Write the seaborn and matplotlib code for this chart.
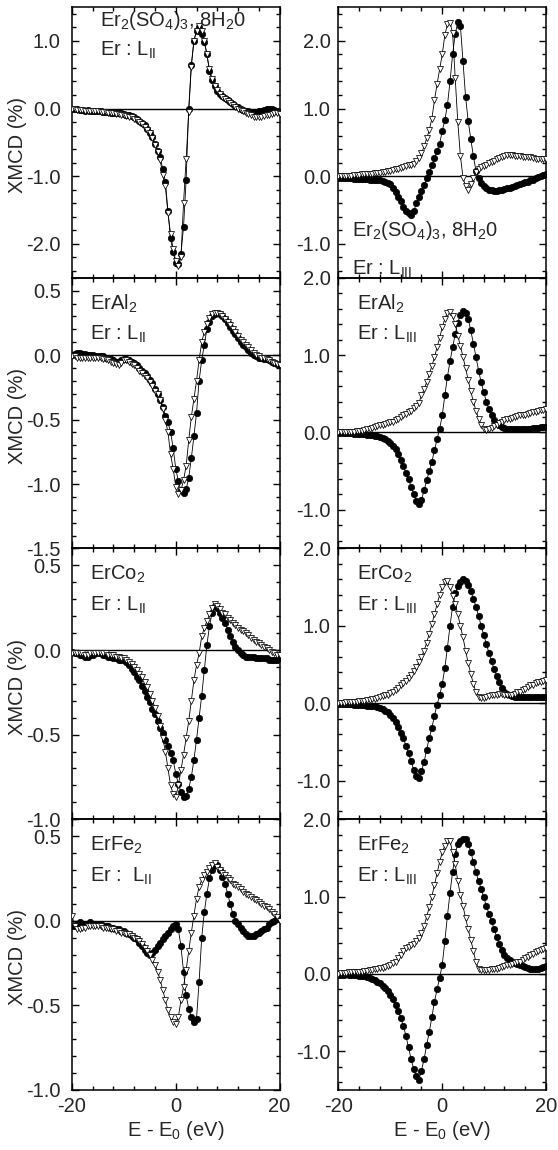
import numpy as np
import matplotlib
matplotlib.use("Agg")
import matplotlib.pyplot as plt
from matplotlib.ticker import MultipleLocator, FormatStrFormatter
import seaborn as sns

# energy grid, 0.5 eV steps from -20 to 20 eV
energy = np.linspace(-20, 20, 81)

# ---- L_II edge (left column) ----
sulf_l2_circ = [0.00, -0.01, -0.01, -0.02, -0.02, -0.03, -0.02, -0.03, -0.03, -0.04,
                -0.04, -0.04, -0.05, -0.05, -0.05, -0.06, -0.06, -0.06, -0.07, -0.07,
                -0.08, -0.09, -0.10, -0.11, -0.13, -0.15, -0.18, -0.21, -0.25, -0.30,
                -0.36, -0.42, -0.52, -0.62, -0.72, -0.90, -1.08, -1.52, -1.92, -2.12,
                -2.28, -2.30, -2.15, -1.75, -1.05, 0.00, 0.65, 1.00, 1.15, 1.20,
                1.10, 0.98, 0.80, 0.55, 0.42, 0.33, 0.26, 0.22, 0.18, 0.15,
                0.12, 0.10, 0.06, 0.04, 0.02, 0.00, -0.02, -0.03, -0.04, -0.05,
                -0.06, -0.05, -0.04, -0.03, -0.02, 0.00, 0.00, -0.01, -0.02, -0.03,
                -0.05]
sulf_l2_tri = [-0.01, -0.01, -0.02, -0.02, -0.02, -0.03, -0.03, -0.03, -0.04, -0.04,
               -0.04, -0.05, -0.05, -0.05, -0.06, -0.06, -0.07, -0.08, -0.08, -0.09,
               -0.10, -0.11, -0.12, -0.13, -0.15, -0.17, -0.20, -0.23, -0.27, -0.32,
               -0.36, -0.44, -0.54, -0.64, -0.76, -0.98, -1.15, -1.55, -1.85, -2.08,
               -2.25, -2.33, -2.20, -1.40, -0.75, -0.05, 0.62, 1.00, 1.15, 1.22,
               1.15, 1.00, 0.80, 0.58, 0.44, 0.34, 0.27, 0.22, 0.17, 0.14,
               0.11, 0.08, 0.05, 0.02, 0.00, -0.02, -0.04, -0.06, -0.08, -0.10,
               -0.12, -0.13, -0.13, -0.12, -0.11, -0.10, -0.09, -0.08, -0.07, -0.07,
               -0.08]

al_l2_circ = [0.00, 0.01, 0.02, 0.02, 0.01, 0.01, 0.00, 0.00, 0.00, -0.01,
              -0.01, -0.01, -0.01, -0.02, -0.02, -0.03, -0.04, -0.05, -0.05, -0.04,
              -0.03, -0.03, -0.04, -0.05, -0.06, -0.08, -0.10, -0.12, -0.14, -0.16,
              -0.19, -0.22, -0.26, -0.30, -0.35, -0.40, -0.47, -0.52, -0.60, -0.72,
              -0.88, -0.98, -1.05, -1.07, -1.04, -0.95, -0.80, -0.63, -0.45, -0.20,
              -0.04, 0.08, 0.20, 0.26, 0.30, 0.32, 0.33, 0.32, 0.30, 0.28,
              0.25, 0.22, 0.19, 0.16, 0.13, 0.10, 0.08, 0.06, 0.04, 0.02,
              0.00, -0.01, -0.02, -0.02, -0.03, -0.03, -0.04, -0.05, -0.06, -0.07,
              -0.08]
al_l2_tri = [-0.01, -0.01, -0.02, -0.02, -0.02, -0.02, -0.02, -0.02, -0.02, -0.02,
             -0.02, -0.02, -0.03, -0.03, -0.04, -0.05, -0.06, -0.07, -0.08, -0.06,
             -0.04, -0.04, -0.05, -0.07, -0.08, -0.10, -0.12, -0.14, -0.16, -0.18,
             -0.21, -0.24, -0.28, -0.30, -0.35, -0.42, -0.50, -0.60, -0.77, -0.88,
             -1.02, -1.08, -1.05, -0.97, -0.86, -0.66, -0.48, -0.34, -0.20, -0.04,
             0.10, 0.18, 0.24, 0.29, 0.32, 0.33, 0.33, 0.32, 0.30, 0.28,
             0.26, 0.23, 0.20, 0.18, 0.15, 0.12, 0.10, 0.08, 0.06, 0.04,
             0.02, 0.00, -0.01, -0.02, -0.02, -0.03, -0.04, -0.05, -0.06, -0.07,
             -0.08]

co_l2_circ = [-0.01, -0.02, -0.02, -0.03, -0.03, -0.04, -0.04, -0.03, -0.03, -0.02,
              -0.02, -0.02, -0.03, -0.03, -0.04, -0.04, -0.05, -0.05, -0.06, -0.06,
              -0.06, -0.07, -0.09, -0.11, -0.13, -0.16, -0.18, -0.21, -0.24, -0.28,
              -0.31, -0.35, -0.38, -0.42, -0.46, -0.49, -0.53, -0.57, -0.61, -0.65,
              -0.73, -0.79, -0.84, -0.87, -0.86, -0.82, -0.75, -0.65, -0.53, -0.40,
              -0.27, -0.12, 0.03, 0.14, 0.22, 0.26, 0.25, 0.22, 0.19, 0.16,
              0.12, 0.08, 0.05, 0.02, 0.00, -0.02, -0.03, -0.04, -0.04, -0.04,
              -0.04, -0.05, -0.05, -0.05, -0.05, -0.05, -0.06, -0.06, -0.06, -0.06,
              -0.05]
co_l2_tri = [-0.02, -0.02, -0.02, -0.02, -0.02, -0.03, -0.03, -0.02, -0.02, -0.02,
             -0.02, -0.02, -0.02, -0.02, -0.03, -0.03, -0.03, -0.04, -0.04, -0.05,
             -0.05, -0.06, -0.07, -0.08, -0.10, -0.12, -0.14, -0.16, -0.19, -0.22,
             -0.26, -0.30, -0.34, -0.39, -0.45, -0.52, -0.60, -0.70, -0.80, -0.85,
             -0.87, -0.80, -0.71, -0.62, -0.52, -0.42, -0.30, -0.18, -0.09, -0.02,
             0.08, 0.13, 0.17, 0.21, 0.25, 0.27, 0.26, 0.24, 0.22, 0.21,
             0.19, 0.18, 0.16, 0.15, 0.13, 0.12, 0.11, 0.10, 0.09, 0.07,
             0.06, 0.05, 0.04, 0.03, 0.02, 0.01, 0.00, -0.01, -0.02, -0.03,
             -0.03]

fe_l2_circ = [-0.03, -0.03, -0.02, -0.01, -0.02, -0.02, -0.02, -0.01, -0.02, -0.02,
              -0.02, -0.02, -0.03, -0.03, -0.03, -0.04, -0.04, -0.05, -0.05, -0.06,
              -0.06, -0.07, -0.08, -0.09, -0.10, -0.11, -0.13, -0.15, -0.17, -0.19,
              -0.20, -0.19, -0.17, -0.15, -0.13, -0.11, -0.09, -0.07, -0.05, -0.03,
              -0.02, -0.05, -0.15, -0.30, -0.44, -0.52, -0.57, -0.60, -0.58, -0.36,
              -0.10, 0.05, 0.16, 0.25, 0.30, 0.33, 0.33, 0.30, 0.26, 0.22,
              0.16, 0.10, 0.04, 0.00, -0.02, -0.04, -0.06, -0.08, -0.09, -0.09,
              -0.09, -0.08, -0.07, -0.06, -0.05, -0.04, -0.02, -0.01, 0.00, 0.01,
              0.02]
fe_l2_tri = [0.03, -0.03, -0.05, -0.05, -0.04, -0.04, -0.03, -0.03, -0.03, -0.03,
             -0.03, -0.03, -0.04, -0.04, -0.04, -0.05, -0.05, -0.06, -0.06, -0.07,
             -0.07, -0.08, -0.08, -0.09, -0.10, -0.11, -0.12, -0.14, -0.16, -0.18,
             -0.20, -0.23, -0.26, -0.30, -0.35, -0.41, -0.47, -0.53, -0.57, -0.60,
             -0.61, -0.57, -0.47, -0.39, -0.29, -0.18, -0.07, 0.03, 0.13, 0.20,
             0.24, 0.27, 0.29, 0.31, 0.33, 0.34, 0.32, 0.30, 0.28, 0.27,
             0.25, 0.24, 0.22, 0.21, 0.20, 0.19, 0.17, 0.16, 0.15, 0.14,
             0.13, 0.12, 0.11, 0.10, 0.09, 0.08, 0.07, 0.05, 0.04, 0.02,
             0.00]

# ---- L_III edge (right column) ----
sulf_l3_circ = [-0.03, -0.02, -0.02, -0.03, -0.03, -0.03, -0.04, -0.04, -0.04, -0.04,
                -0.04, -0.04, -0.05, -0.05, -0.05, -0.06, -0.06, -0.07, -0.08, -0.10,
                -0.12, -0.18, -0.23, -0.31, -0.37, -0.45, -0.51, -0.55, -0.57, -0.52,
                -0.40, -0.31, -0.22, -0.13, -0.03, 0.06, 0.16, 0.27, 0.38, 0.48,
                0.67, 0.83, 1.05, 1.40, 1.80, 2.10, 2.28, 2.22, 1.70, 1.17,
                0.82, 0.55, 0.30, 0.08, -0.02, -0.10, -0.15, -0.18, -0.20, -0.21,
                -0.22, -0.22, -0.21, -0.20, -0.19, -0.18, -0.17, -0.16, -0.15, -0.13,
                -0.12, -0.10, -0.09, -0.08, -0.06, -0.05, -0.03, -0.01, 0.01, 0.02,
                0.03]
sulf_l3_tri = [0.00, 0.00, 0.00, 0.01, 0.01, 0.01, 0.02, 0.02, 0.02, 0.03,
               0.03, 0.03, 0.04, 0.04, 0.05, 0.05, 0.05, 0.06, 0.06, 0.07,
               0.08, 0.09, 0.10, 0.11, 0.12, 0.13, 0.15, 0.16, 0.17, 0.18,
               0.22, 0.27, 0.34, 0.44, 0.56, 0.68, 0.85, 1.12, 1.36, 1.58,
               1.80, 2.08, 2.25, 2.27, 2.12, 1.45, 0.80, 0.30, -0.02, -0.15,
               -0.20, -0.12, -0.02, 0.06, 0.10, 0.13, 0.15, 0.17, 0.19, 0.21,
               0.23, 0.25, 0.27, 0.29, 0.30, 0.31, 0.31, 0.31, 0.30, 0.30,
               0.30, 0.29, 0.29, 0.28, 0.28, 0.27, 0.26, 0.26, 0.25, 0.25,
               0.25]

al_l3_circ = [-0.01, -0.01, -0.01, -0.01, -0.01, -0.01, -0.02, -0.02, -0.02, -0.02,
              -0.02, -0.03, -0.03, -0.03, -0.04, -0.05, -0.06, -0.07, -0.09, -0.11,
              -0.14, -0.18, -0.22, -0.28, -0.35, -0.44, -0.52, -0.60, -0.70, -0.80,
              -0.88, -0.93, -0.87, -0.75, -0.62, -0.50, -0.38, -0.23, -0.09, 0.05,
              0.22, 0.48, 0.72, 0.92, 1.10, 1.27, 1.42, 1.52, 1.57, 1.55,
              1.47, 1.32, 1.15, 0.98, 0.80, 0.65, 0.52, 0.40, 0.30, 0.22,
              0.16, 0.12, 0.09, 0.07, 0.06, 0.05, 0.05, 0.05, 0.05, 0.05,
              0.05, 0.05, 0.05, 0.05, 0.05, 0.06, 0.06, 0.06, 0.07, 0.07,
              0.07]
al_l3_tri = [0.00, 0.00, 0.00, 0.00, 0.01, 0.01, 0.01, 0.02, 0.02, 0.02,
             0.03, 0.04, 0.05, 0.06, 0.07, 0.08, 0.09, 0.10, 0.11, 0.12,
             0.13, 0.14, 0.16, 0.18, 0.20, 0.22, 0.24, 0.26, 0.28, 0.31,
             0.34, 0.38, 0.48, 0.56, 0.65, 0.75, 0.86, 0.97, 1.10, 1.22,
             1.36, 1.47, 1.55, 1.56, 1.50, 1.40, 1.25, 1.12, 0.98, 0.83,
             0.68, 0.53, 0.40, 0.28, 0.18, 0.10, 0.05, 0.03, 0.04, 0.06,
             0.08, 0.10, 0.12, 0.14, 0.16, 0.17, 0.18, 0.19, 0.20, 0.21,
             0.22, 0.22, 0.23, 0.24, 0.25, 0.26, 0.27, 0.28, 0.29, 0.29,
             0.30]

co_l3_circ = [-0.01, -0.01, -0.01, -0.01, -0.01, -0.01, -0.02, -0.02, -0.02, -0.02,
              -0.02, -0.03, -0.03, -0.03, -0.04, -0.05, -0.06, -0.08, -0.10, -0.12,
              -0.15, -0.19, -0.24, -0.31, -0.38, -0.45, -0.55, -0.65, -0.75, -0.86,
              -0.94, -0.97, -0.88, -0.76, -0.60, -0.45, -0.32, -0.16, -0.02, 0.10,
              0.25, 0.45, 0.72, 1.00, 1.25, 1.42, 1.52, 1.57, 1.60, 1.58,
              1.53, 1.45, 1.35, 1.25, 1.13, 1.00, 0.88, 0.77, 0.65, 0.54,
              0.44, 0.35, 0.27, 0.20, 0.15, 0.12, 0.10, 0.09, 0.08, 0.08,
              0.08, 0.08, 0.08, 0.08, 0.08, 0.08, 0.08, 0.08, 0.08, 0.08,
              0.08]
co_l3_tri = [0.00, 0.00, 0.00, 0.01, 0.01, 0.01, 0.02, 0.02, 0.03, 0.03,
             0.03, 0.04, 0.04, 0.05, 0.06, 0.07, 0.08, 0.09, 0.10, 0.11,
             0.13, 0.15, 0.17, 0.20, 0.23, 0.26, 0.29, 0.33, 0.37, 0.42,
             0.47, 0.53, 0.60, 0.68, 0.78, 0.90, 1.02, 1.15, 1.28, 1.40,
             1.50, 1.57, 1.58, 1.50, 1.38, 1.28, 1.15, 1.00, 0.85, 0.68,
             0.52, 0.38, 0.25, 0.14, 0.08, 0.07, 0.07, 0.08, 0.09, 0.10,
             0.10, 0.11, 0.12, 0.12, 0.11, 0.10, 0.10, 0.11, 0.12, 0.14,
             0.15, 0.17, 0.19, 0.21, 0.23, 0.24, 0.26, 0.27, 0.28, 0.29,
             0.30]

fe_l3_circ = [-0.01, -0.01, -0.01, 0.00, -0.01, -0.01, -0.02, -0.02, -0.03, -0.03,
              -0.03, -0.04, -0.05, -0.06, -0.08, -0.10, -0.12, -0.15, -0.18, -0.22,
              -0.27, -0.33, -0.40, -0.48, -0.57, -0.67, -0.80, -0.95, -1.10, -1.23,
              -1.32, -1.37, -1.25, -1.10, -0.92, -0.75, -0.56, -0.36, -0.20, -0.05,
              0.12, 0.42, 0.75, 1.05, 1.32, 1.55, 1.68, 1.72, 1.75, 1.74,
              1.68, 1.58, 1.45, 1.32, 1.20, 1.10, 0.99, 0.88, 0.78, 0.68,
              0.58, 0.48, 0.39, 0.31, 0.25, 0.21, 0.18, 0.16, 0.14, 0.13,
              0.12, 0.10, 0.09, 0.08, 0.07, 0.06, 0.06, 0.07, 0.08, 0.09,
              0.10]
fe_l3_tri = [0.00, 0.01, 0.01, 0.01, 0.02, 0.02, 0.02, 0.03, 0.03, 0.03,
             0.04, 0.04, 0.05, 0.05, 0.06, 0.07, 0.08, 0.08, 0.09, 0.10,
             0.12, 0.14, 0.16, 0.20, 0.25, 0.30, 0.33, 0.35, 0.37, 0.39,
             0.42, 0.47, 0.53, 0.62, 0.74, 0.86, 1.00, 1.15, 1.30, 1.45,
             1.57, 1.66, 1.72, 1.72, 1.57, 1.42, 1.20, 1.02, 0.88, 0.72,
             0.58, 0.44, 0.30, 0.15, 0.07, 0.05, 0.05, 0.05, 0.05, 0.06,
             0.06, 0.07, 0.08, 0.09, 0.10, 0.11, 0.12, 0.13, 0.14, 0.15,
             0.16, 0.18, 0.20, 0.22, 0.24, 0.26, 0.28, 0.30, 0.31, 0.32,
             0.33]

compounds = ["Er$_2$(SO$_4$)$_3$, 8H$_2$0", "ErAl$_2$", "ErCo$_2$", "ErFe$_2$"]
edge_l2 = ["Er : L$_{II}$", "Er : L$_{II}$", "Er : L$_{II}$", "Er :  L$_{II}$"]
edge_l3 = "Er : L$_{III}$"

left_data = [(sulf_l2_circ, sulf_l2_tri), (al_l2_circ, al_l2_tri),
             (co_l2_circ, co_l2_tri), (fe_l2_circ, fe_l2_tri)]
right_data = [(sulf_l3_circ, sulf_l3_tri), (al_l3_circ, al_l3_tri),
              (co_l3_circ, co_l3_tri), (fe_l3_circ, fe_l3_tri)]

left_ylims = [(-2.5, 1.5), (-1.5, 0.6), (-1.0, 0.6), (-1.0, 0.6)]
left_major = [1.0, 0.5, 0.5, 0.5]
right_ylims = [(-1.5, 2.5), (-1.5, 2.0), (-1.5, 2.0), (-1.5, 2.0)]

FS = 14.5

sns.set_style("ticks", {"xtick.direction": "in", "ytick.direction": "in"})
plt.rcParams["font.family"] = ["Liberation Sans", "DejaVu Sans"]
plt.rcParams["mathtext.fontset"] = "custom"
plt.rcParams["mathtext.rm"] = "Liberation Sans"
plt.rcParams["mathtext.it"] = "Liberation Sans:italic"
plt.rcParams["mathtext.default"] = "regular"
plt.rcParams["axes.unicode_minus"] = False
plt.rcParams["axes.linewidth"] = 1.1


def draw_panel(ax, circ, tri):
    ax.axhline(0, color="black", lw=1.0, zorder=1)
    sns.lineplot(x=energy, y=circ, ax=ax, color="black", lw=0.6, marker="o",
                 markersize=4.6, markerfacecolor="black", markeredgecolor="black",
                 markeredgewidth=0.5, estimator=None, sort=False, zorder=2)
    sns.lineplot(x=energy, y=tri, ax=ax, color="black", lw=0.6, marker="v",
                 markersize=5.0, markerfacecolor="white", markeredgecolor="black",
                 markeredgewidth=0.55, estimator=None, sort=False, zorder=3)


fig = plt.figure(figsize=(5.58, 11.5), dpi=100)
axes = fig.subplots(4, 2, sharex=True, gridspec_kw=dict(hspace=0, wspace=0.284))
fig.subplots_adjust(left=0.129, right=0.9785, top=0.9939, bottom=0.0522)

for i in range(4):
    for j in range(2):
        ax = axes[i, j]
        ax.set_facecolor("none")
        if j == 0:
            draw_panel(ax, *left_data[i])
            ax.set_ylim(*left_ylims[i])
            ax.yaxis.set_major_locator(MultipleLocator(left_major[i]))
            ax.yaxis.set_minor_locator(MultipleLocator(left_major[i] / 5))
            ax.set_ylabel("XMCD (%)", fontsize=FS)
            ax.yaxis.set_label_coords(-0.215, 0.49)
            ypad = 8
        else:
            draw_panel(ax, *right_data[i])
            ax.set_ylim(*right_ylims[i])
            ax.yaxis.set_major_locator(MultipleLocator(1.0))
            ax.yaxis.set_minor_locator(MultipleLocator(0.2))
            ax.set_ylabel("")
            ypad = 5.5
        ax.set_xlim(-20, 20)
        ax.xaxis.set_major_locator(MultipleLocator(20))
        ax.xaxis.set_minor_locator(MultipleLocator(4))
        ax.yaxis.set_major_formatter(FormatStrFormatter("%.1f"))
        ax.tick_params(which="both", direction="in", top=True, right=True,
                       labelsize=FS, color="black")
        ax.tick_params(axis="y", which="both", pad=ypad)
        ax.tick_params(which="major", length=5, width=1.0)
        ax.tick_params(which="minor", length=3, width=1.0)
        for sp in ax.spines.values():
            sp.set_color("black")

# panel annotations
axes[0, 0].text(0.135, 0.95, compounds[0], transform=axes[0, 0].transAxes,
                fontsize=FS, va="center", ha="left", zorder=0)
axes[0, 0].text(0.135, 0.84, edge_l2[0], transform=axes[0, 0].transAxes,
                fontsize=FS, va="center", ha="left")
axes[0, 1].text(0.067, 0.174, compounds[0], transform=axes[0, 1].transAxes,
                fontsize=FS, va="center", ha="left")
axes[0, 1].text(0.067, 0.03, edge_l3, transform=axes[0, 1].transAxes,
                fontsize=FS, va="center", ha="left", clip_on=False)
for i in range(1, 4):
    axes[i, 0].text(0.087, 0.904, compounds[i], transform=axes[i, 0].transAxes,
                    fontsize=FS, va="center", ha="left")
    axes[i, 0].text(0.087, 0.79, edge_l2[i], transform=axes[i, 0].transAxes,
                    fontsize=FS, va="center", ha="left")
    axes[i, 1].text(0.087, 0.904, compounds[i], transform=axes[i, 1].transAxes,
                    fontsize=FS, va="center", ha="left")
    axes[i, 1].text(0.087, 0.79, edge_l3, transform=axes[i, 1].transAxes,
                    fontsize=FS, va="center", ha="left")

for j in range(2):
    axes[3, j].set_xlabel("E - E$_0$ (eV)", fontsize=FS, labelpad=2)
    axes[3, j].tick_params(axis="x", pad=5)

fig.savefig("out.png", dpi=100, facecolor="white")
